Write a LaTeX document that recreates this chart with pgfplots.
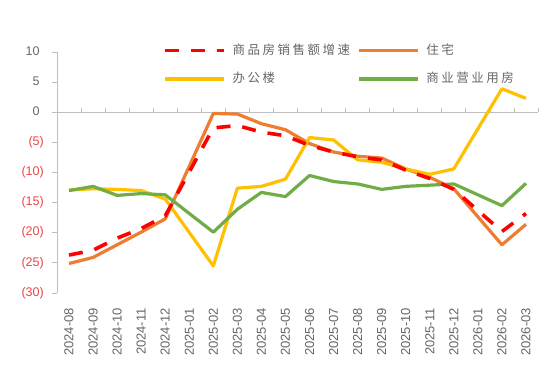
\documentclass[border=0pt]{standalone}
\usepackage{fontspec}
\setmainfont{Liberation Sans}
\newfontfamily\cjk[LetterSpace=20]{Noto Sans CJK SC}
\usepackage{pgfplots}
\pgfplotsset{compat=1.18}
\definecolor{cred}{HTML}{FF0000}
\definecolor{corange}{HTML}{ED7D31}
\definecolor{cyellow}{HTML}{FFC000}
\definecolor{cgreen}{HTML}{70AD47}
\definecolor{txtgray}{HTML}{666666}
\definecolor{negred}{HTML}{E84545}
\definecolor{axgray}{HTML}{BFBFBF}
\begin{document}
\begin{tikzpicture}
\useasboundingbox (-57pt,-72pt) rectangle (493pt,293pt);
\begin{axis}[
  scale only axis, width=481pt, height=241pt,
  xmin=-0.5, xmax=19.5, ymin=-30, ymax=10,
  axis y line=left, axis x line=bottom,
  axis line style={-, draw=axgray, line width=0.8pt},
  x axis line style={draw=none},
  y axis line style={-, draw=axgray, line width=0.8pt},
  xtick={0,...,19},
  xticklabels={2024-08,2024-09,2024-10,2024-11,2024-12,2025-01,2025-02,2025-03,2025-04,2025-05,2025-06,2025-07,2025-08,2025-09,2025-10,2025-11,2025-12,2026-01,2026-02,2026-03},
  x tick style={draw=none},
  xticklabel style={rotate=90, anchor=east, inner sep=0pt, font=\fontsize{13}{15}\selectfont, text=txtgray},
  xticklabel shift=10pt,
  ytick={-30,-25,...,10},
  yticklabels={\textcolor{negred}{(30)},\textcolor{negred}{(25)},\textcolor{negred}{(20)},\textcolor{negred}{(15)},\textcolor{negred}{(10)},\textcolor{negred}{(5)},0\phantom{)},5\phantom{)},10\phantom{)}},
  y tick style={draw=axgray, line width=0.8pt},
  tick align=outside, major tick length=5pt,
  yticklabel style={inner sep=0pt, anchor=east, font=\fontsize{12.5}{15}\selectfont, text=txtgray},
  yticklabel shift=8pt,
  clip=false,
  legend columns=2,
  legend cell align=left,
  legend style={draw=none, fill=none, at={(0.2204,1.0324)}, anchor=north west, inner sep=0pt, outer sep=0pt,
    column sep=7pt, row sep=15.3pt, font=\cjk\fontsize{12.5}{15}\selectfont, text=txtgray,
    nodes={inner sep=0pt, text height=10pt, text depth=3pt}},
  legend image code/.code={\draw[#1] (0pt,0pt) -- (59pt,0pt);},
]
\addlegendimage{cred, line width=3.6pt, dash pattern=on 14pt off 12pt}
\addlegendentry{商品房销售额增速}
\addlegendimage{corange, line width=3.2pt}
\addlegendentry{住宅}
\addlegendimage{cyellow, line width=3.2pt}
\addlegendentry{办公楼}
\addlegendimage{cgreen, line width=3.2pt}
\addlegendentry{商业营业用房}

\draw[axgray, line width=0.8pt] (axis cs:-0.5,-30) -- (axis cs:-0.5,10);
\pgfplotsinvokeforeach{-30,-25,...,10}{\draw[axgray, line width=0.8pt] (axis cs:-0.5,#1) -- ++(-5pt,0pt);}
\draw[axgray, line width=0.8pt] (axis cs:-0.5,0) -- (axis cs:19.5,0);
\pgfplotsinvokeforeach{-0.5,0.5,...,19.5}{\draw[axgray, line width=0.8pt] (axis cs:#1,0) -- ++(0pt,4pt);}

\addplot[corange, line width=3.2pt, line join=round, forget plot] coordinates {
(0,-25.1) (1,-24.1) (2,-22.0) (3,-19.9) (4,-17.7) (6,-0.2) (7,-0.3) (8,-1.9) (9,-2.9) (10,-5.2) (11,-6.6) (12,-7.3) (13,-7.6) (14,-9.4) (15,-10.8) (16,-12.7) (18,-22.0) (19,-18.6)};
\addplot[cyellow, line width=3.2pt, line join=round, forget plot] coordinates {
(0,-12.9) (1,-12.7) (2,-12.8) (3,-13.0) (4,-14.4) (6,-25.5) (7,-12.6) (8,-12.3) (9,-11.1) (10,-4.2) (11,-4.6) (12,-7.9) (13,-8.3) (14,-9.4) (15,-10.3) (16,-9.4) (18,3.9) (19,2.3)};
\addplot[cgreen, line width=3.2pt, line join=round, forget plot] coordinates {
(0,-13.0) (1,-12.3) (2,-13.8) (3,-13.5) (4,-13.7) (6,-19.9) (7,-16.1) (8,-13.3) (9,-14.0) (10,-10.5) (11,-11.5) (12,-11.9) (13,-12.8) (14,-12.3) (15,-12.1) (16,-11.9) (18,-15.5) (19,-11.8)};
\addplot[cred, line width=3.6pt, dash pattern=on 14pt off 12pt, line join=round, forget plot] coordinates {
(0,-23.7) (1,-22.9) (2,-20.9) (3,-19.3) (4,-17.2) (6,-2.6) (7,-2.2) (8,-3.3) (9,-3.9) (10,-5.5) (11,-6.6) (12,-7.4) (13,-7.9) (14,-9.6) (15,-11.0) (16,-12.8) (18,-19.8) (19,-16.8)};
\end{axis}
\end{tikzpicture}
\end{document}
